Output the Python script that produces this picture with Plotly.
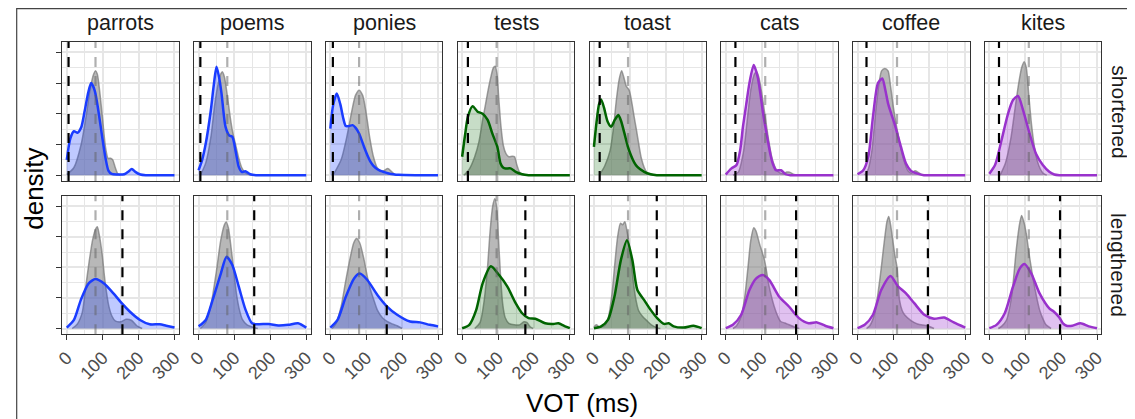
import plotly.graph_objects as go

# the page body adds an 8 px margin, so the figure is drawn 8 px smaller
OFF = 8
W, H = 1135 - OFF, 419 - OFF

words = ["parrots", "poems", "ponies", "tests", "toast", "cats", "coffee", "kites"]
conditions = ["shortened", "lengthened"]
word_colors = ["#1a3cff", "#1a3cff", "#1a3cff", "#006400", "#006400", "#9932cc", "#9932cc", "#9932cc"]
word_fills = ["rgba(26,60,255,0.28)", "rgba(26,60,255,0.28)", "rgba(26,60,255,0.28)",
              "rgba(0,100,0,0.22)", "rgba(0,100,0,0.22)",
              "rgba(153,50,204,0.30)", "rgba(153,50,204,0.30)", "rgba(153,50,204,0.30)"]

# vertical reference lines (VOT, ms)
baseline_mean = [80, 80, 80, 96, 95, 110, 110, 110]
shortened_target = [5, 5, 7, 16, 16, 27, 25, 27]
lengthened_target = [155, 155, 157, 176, 175, 196, 196, 197]

x_ticks = [0, 100, 200, 300]
y_ticks = [0, 1, 2, 3, 4]

# ---------------- shortened row: manipulated densities ----------------
parrots_short_x = [0, 10, 20, 30, 40, 50, 60, 68, 78, 88, 98, 108, 116, 125, 140, 160, 172, 181, 192, 205, 220, 260, 300]
parrots_short_y = [0.5, 1.2, 1.43, 1.38, 1.55, 2.1, 2.7, 3.0, 2.75, 2.1, 1.3, 0.55, 0.15, 0.04, 0.02, 0.03, 0.12, 0.2, 0.1, 0.02, 0, 0, 0]
poems_short_x = [0, 10, 20, 34, 42, 50, 57, 64, 75, 85, 94, 103, 112, 121, 130, 144, 160, 230, 300]
poems_short_y = [0.16, 0.5, 1.03, 2.1, 2.9, 3.53, 3.2, 2.66, 1.58, 1.3, 1.25, 0.8, 0.27, 0.1, 0.13, 0.03, 0, 0, 0]
ponies_short_x = [0, 8, 18, 28, 36, 43, 52, 62, 70, 80, 94, 105, 112, 120, 130, 140, 150, 160, 175, 190, 240, 300]
ponies_short_y = [1.52, 2.3, 2.66, 2.3, 1.85, 1.6, 1.6, 1.63, 1.55, 1.36, 0.92, 0.6, 0.43, 0.3, 0.2, 0.14, 0.1, 0.06, 0.03, 0.01, 0, 0]
tests_short_x = [0, 8, 16, 29, 43, 57, 71, 84, 98, 107, 114, 121, 135, 149, 167, 185, 240, 300]
tests_short_y = [0.6, 1.3, 1.9, 2.25, 2.07, 2.0, 1.8, 1.36, 0.92, 0.38, 0.25, 0.22, 0.22, 0.11, 0.03, 0, 0, 0]
toast_short_x = [0, 8, 14, 20, 28, 38, 48, 58, 68, 76, 85, 94, 103, 112, 121, 140, 158, 175, 240, 300]
toast_short_y = [0.92, 1.8, 2.3, 2.47, 2.2, 1.75, 1.58, 1.8, 1.96, 1.75, 1.36, 0.95, 0.65, 0.42, 0.27, 0.11, 0.03, 0, 0, 0]
cats_short_x = [0, 16, 30, 40, 48, 57, 66, 78, 89, 96, 103, 110, 117, 124, 131, 140, 154, 167, 180, 240, 300]
cats_short_y = [0.02, 0.22, 0.33, 0.8, 1.58, 2.3, 3.0, 3.59, 3.2, 2.7, 2.1, 1.6, 1.14, 0.7, 0.38, 0.16, 0.16, 0.03, 0, 0, 0]
coffee_short_x = [0, 16, 30, 43, 57, 69, 77, 85, 94, 103, 112, 121, 135, 149, 167, 185, 240, 300]
coffee_short_y = [0.03, 0.16, 0.6, 1.9, 3.0, 3.15, 2.8, 2.34, 2.0, 1.68, 1.3, 0.92, 0.38, 0.14, 0.05, 0, 0, 0]
kites_short_x = [0, 16, 34, 52, 66, 80, 94, 112, 130, 149, 167, 181, 195, 250, 300]
kites_short_y = [0.05, 0.33, 1.14, 2.0, 2.45, 2.58, 2.12, 1.36, 0.7, 0.33, 0.11, 0.02, 0, 0, 0]

# ---------------- shortened row: baseline densities ----------------
parrots_short_base_x = [0, 20, 40, 55, 65, 75, 80, 85, 92, 100, 108, 115, 122, 128, 135, 142, 150]
parrots_short_base_y = [0.02, 0.25, 1.0, 2.0, 2.8, 3.3, 3.4, 3.3, 2.7, 1.8, 0.9, 0.55, 0.55, 0.5, 0.25, 0.05, 0]
poems_short_base_x = [5, 20, 35, 45, 55, 62, 66, 72, 80, 88, 95, 103, 112, 120, 130, 140, 150]
poems_short_base_y = [0, 0.4, 1.3, 2.3, 3.0, 3.3, 3.37, 3.2, 2.6, 1.9, 1.4, 1.0, 0.55, 0.25, 0.08, 0.02, 0]
ponies_short_base_x = [10, 30, 45, 60, 70, 80, 90, 100, 110, 120, 130, 140, 150, 160, 170, 180, 190]
ponies_short_base_y = [0.05, 0.5, 1.2, 2.1, 2.6, 2.77, 2.6, 2.0, 1.2, 0.6, 0.25, 0.12, 0.15, 0.22, 0.12, 0.02, 0]
tests_short_base_x = [5, 20, 35, 47, 57, 65, 72, 80, 87, 92, 97, 102, 108, 115, 122, 130, 140, 146, 152, 160, 170, 178]
tests_short_base_y = [0, 0.2, 0.6, 1.1, 1.8, 2.3, 2.75, 3.2, 3.5, 3.55, 3.3, 2.5, 1.6, 0.95, 0.7, 0.6, 0.62, 0.6, 0.35, 0.1, 0.02, 0]
toast_short_base_x = [15, 30, 45, 55, 62, 70, 77, 83, 90, 98, 105, 112, 118, 125, 132, 140, 148, 158, 165]
toast_short_base_y = [0, 0.3, 0.8, 1.6, 2.4, 3.1, 3.4, 3.2, 2.9, 2.77, 2.4, 1.9, 1.5, 1.0, 0.55, 0.25, 0.08, 0.02, 0]
cats_short_base_x = [20, 35, 50, 60, 70, 80, 86, 92, 100, 110, 120, 130, 140, 150, 160, 170, 178, 188, 195]
cats_short_base_y = [0, 0.1, 0.8, 1.8, 2.8, 3.3, 3.37, 3.2, 2.7, 1.9, 1.1, 0.5, 0.2, 0.08, 0.05, 0.1, 0.1, 0.03, 0]
coffee_short_base_x = [20, 30, 40, 50, 60, 67, 76, 85, 92, 100, 110, 120, 130, 140, 150, 160, 168, 178, 185]
coffee_short_base_y = [0, 0.2, 0.8, 2.0, 3.0, 3.4, 3.48, 3.4, 2.9, 2.2, 1.5, 0.9, 0.45, 0.15, 0.06, 0.14, 0.1, 0.02, 0]
kites_short_base_x = [30, 45, 60, 72, 82, 90, 97, 103, 110, 118, 126, 134, 142, 150, 160]
kites_short_base_y = [0, 0.4, 1.2, 2.2, 3.0, 3.5, 3.7, 3.5, 2.6, 1.6, 0.9, 0.45, 0.2, 0.06, 0]

# ---------------- lengthened row: manipulated densities ----------------
parrots_long_x = [0, 20, 39, 61, 80, 103, 130, 153, 176, 204, 231, 259, 277, 300]
parrots_long_y = [0.03, 0.28, 0.93, 1.48, 1.62, 1.48, 1.15, 0.83, 0.55, 0.28, 0.14, 0.14, 0.09, 0.03]
poems_long_x = [0, 20, 39, 62, 78, 94, 112, 131, 149, 167, 195, 222, 250, 277, 300]
poems_long_y = [0.07, 0.28, 0.93, 1.8, 2.35, 2.08, 1.37, 0.61, 0.17, 0.14, 0.15, 0.1, 0.12, 0.17, 0.03]
ponies_long_x = [0, 20, 43, 66, 82, 103, 131, 158, 186, 222, 250, 277, 300]
ponies_long_y = [0.03, 0.28, 1.04, 1.64, 1.8, 1.59, 1.1, 0.72, 0.45, 0.23, 0.2, 0.12, 0.07]
tests_long_x = [0, 20, 39, 57, 80, 103, 126, 149, 167, 185, 204, 231, 254, 268, 285, 300]
tests_long_y = [0.01, 0.12, 0.6, 1.48, 2.04, 1.75, 1.37, 0.83, 0.5, 0.34, 0.32, 0.17, 0.15, 0.17, 0.08, 0.01]
toast_long_x = [0, 20, 39, 57, 75, 92, 107, 121, 140, 158, 176, 195, 208, 222, 250, 277, 300]
toast_long_y = [0.01, 0.07, 0.28, 1.04, 2.24, 2.89, 2.24, 1.26, 0.93, 0.61, 0.34, 0.15, 0.17, 0.07, 0.03, 0.09, 0.01]
cats_long_x = [0, 20, 43, 66, 85, 103, 121, 149, 176, 204, 231, 254, 277, 300]
cats_long_y = [0.01, 0.12, 0.45, 1.26, 1.64, 1.75, 1.59, 1.04, 0.72, 0.34, 0.17, 0.2, 0.09, 0.01]
coffee_long_x = [0, 20, 43, 66, 92, 112, 135, 158, 186, 213, 241, 268, 300]
coffee_long_y = [0.01, 0.12, 0.45, 1.26, 1.72, 1.39, 1.15, 0.83, 0.45, 0.32, 0.36, 0.2, 0.03]
kites_long_x = [0, 20, 43, 66, 85, 98, 117, 140, 167, 180, 195, 205, 215, 231, 254, 277, 300]
kites_long_y = [0.01, 0.12, 0.5, 1.37, 1.97, 2.11, 1.8, 1.15, 0.66, 0.55, 0.36, 0.17, 0.09, 0.09, 0.17, 0.07, 0.01]

# ---------------- lengthened row: baseline densities ----------------
parrots_long_base_x = [15, 29, 43, 52, 62, 72, 80, 85, 90, 98, 107, 117, 126, 135, 150, 165, 180, 195, 210]
parrots_long_base_y = [0, 0.14, 0.52, 1.29, 2.16, 2.9, 3.25, 3.33, 3.1, 2.48, 1.5, 0.74, 0.4, 0.25, 0.22, 0.3, 0.27, 0.09, 0]
poems_long_base_x = [5, 20, 35, 50, 62, 72, 77, 83, 90, 98, 106, 114, 122, 135, 150, 165]
poems_long_base_y = [0, 0.2, 0.8, 1.9, 2.9, 3.4, 3.49, 3.3, 2.7, 1.9, 1.1, 0.6, 0.3, 0.12, 0.05, 0]
ponies_long_base_x = [5, 16, 30, 42, 55, 65, 73, 82, 94, 103, 112, 122, 131, 145, 158, 172, 186, 200]
ponies_long_base_y = [0, 0.17, 0.72, 1.5, 2.3, 2.8, 2.95, 2.8, 2.24, 1.7, 1.26, 0.9, 0.6, 0.35, 0.23, 0.15, 0.09, 0]
tests_long_base_x = [35, 50, 60, 70, 78, 85, 91, 96, 101, 107, 113, 120, 130, 145, 160, 172, 180, 190, 198]
tests_long_base_y = [0, 0.2, 0.8, 1.9, 3.2, 4.0, 4.25, 4.0, 3.0, 1.7, 0.8, 0.35, 0.17, 0.12, 0.12, 0.22, 0.2, 0.05, 0]
toast_long_base_x = [0, 7, 15, 30, 40, 50, 58, 66, 74, 80, 86, 92, 100, 108, 116, 124, 135, 148, 160, 175, 185]
toast_long_base_y = [0.05, 0.12, 0.05, 0.1, 0.35, 1.1, 2.1, 3.0, 3.45, 3.4, 3.5, 3.2, 2.6, 1.7, 1.0, 0.6, 0.4, 0.25, 0.12, 0.03, 0]
cats_long_base_x = [20, 30, 43, 53, 62, 70, 78, 84, 94, 108, 121, 135, 145, 153, 165, 175, 195, 205]
cats_long_base_y = [0, 0.09, 0.39, 1.04, 2.0, 2.9, 3.3, 3.2, 2.78, 2.24, 1.37, 0.72, 0.4, 0.23, 0.18, 0.13, 0.03, 0]
coffee_long_base_x = [25, 34, 48, 62, 75, 82, 87, 92, 98, 104, 110, 117, 124, 131, 149, 167, 195, 213]
coffee_long_base_y = [0, 0.09, 0.5, 1.59, 2.89, 3.5, 3.67, 3.4, 2.9, 2.4, 2.0, 0.93, 0.6, 0.45, 0.26, 0.15, 0.09, 0]
kites_long_base_x = [25, 34, 48, 62, 75, 84, 90, 96, 103, 112, 126, 140, 150, 158, 172]
kites_long_base_y = [0, 0.07, 0.28, 1.04, 2.57, 3.4, 3.7, 3.5, 3.1, 2.35, 1.37, 0.61, 0.3, 0.12, 0]

manip = [
    [(parrots_short_x, parrots_short_y), (poems_short_x, poems_short_y), (ponies_short_x, ponies_short_y),
     (tests_short_x, tests_short_y), (toast_short_x, toast_short_y), (cats_short_x, cats_short_y),
     (coffee_short_x, coffee_short_y), (kites_short_x, kites_short_y)],
    [(parrots_long_x, parrots_long_y), (poems_long_x, poems_long_y), (ponies_long_x, ponies_long_y),
     (tests_long_x, tests_long_y), (toast_long_x, toast_long_y), (cats_long_x, cats_long_y),
     (coffee_long_x, coffee_long_y), (kites_long_x, kites_long_y)],
]
base = [
    [(parrots_short_base_x, parrots_short_base_y), (poems_short_base_x, poems_short_base_y),
     (ponies_short_base_x, ponies_short_base_y), (tests_short_base_x, tests_short_base_y),
     (toast_short_base_x, toast_short_base_y), (cats_short_base_x, cats_short_base_y),
     (coffee_short_base_x, coffee_short_base_y), (kites_short_base_x, kites_short_base_y)],
    [(parrots_long_base_x, parrots_long_base_y), (poems_long_base_x, poems_long_base_y),
     (ponies_long_base_x, ponies_long_base_y), (tests_long_base_x, tests_long_base_y),
     (toast_long_base_x, toast_long_base_y), (cats_long_base_x, cats_long_base_y),
     (coffee_long_base_x, coffee_long_base_y), (kites_long_base_x, kites_long_base_y)],
]
targets = [shortened_target, lengthened_target]

FONT = "Liberation Sans, Arial, Helvetica, sans-serif"
GRID = "#E6E6E6"
FRAME = "#333333"


def px_x(p):
    return (p - OFF) / W


def px_y(p):
    return 1 - (p - OFF) / H


fig = go.Figure()
layout = {}
shapes = []

panel_left0, panel_w, panel_step = 55.0, 117.7, 133.33
row_tops = [42.0, 196.0]
row_bottoms = [181.0, 334.3]

for r in range(2):
    for c in range(8):
        k = r * 8 + c + 1
        xa = "xaxis" if k == 1 else f"xaxis{k}"
        ya = "yaxis" if k == 1 else f"yaxis{k}"
        xr = "x" if k == 1 else f"x{k}"
        yr = "y" if k == 1 else f"y{k}"
        left = panel_left0 + panel_step * c
        layout[xa] = dict(
            domain=[px_x(left), px_x(left + panel_w)], anchor=yr, range=[-12, 312],
            tickvals=x_ticks, ticktext=[str(v) for v in x_ticks],
            showticklabels=(r == 1), ticks="outside" if r == 1 else "",
            ticklen=5, tickwidth=1, tickcolor=FRAME, tickangle=-45,
            tickfont=dict(family=FONT, size=18, color="#4D4D4D"),
            showgrid=True, gridcolor=GRID, gridwidth=1.6,
            minor=dict(dtick=50, tick0=0, showgrid=True, gridcolor=GRID, gridwidth=1, ticks=""),
            showline=True, mirror=True, linecolor=FRAME, linewidth=1, zeroline=False, fixedrange=True,
        )
        layout[ya] = dict(
            domain=[px_y(row_bottoms[r]), px_y(row_tops[r])], anchor=xr, range=[-0.19, 4.34],
            tickvals=y_ticks, showticklabels=False, ticks="outside" if c == 0 else "",
            ticklen=5, tickwidth=1, tickcolor=FRAME,
            showgrid=True, gridcolor=GRID, gridwidth=1.6,
            minor=dict(dtick=0.5, tick0=0, showgrid=True, gridcolor=GRID, gridwidth=1, ticks=""),
            showline=True, mirror=True, linecolor=FRAME, linewidth=1, zeroline=False, fixedrange=True,
        )
        bx, by = base[r][c]
        fig.add_trace(go.Scatter(
            x=bx, y=by, xaxis=xr, yaxis=yr, mode="lines", fill="tozeroy",
            fillcolor="rgba(128,128,128,0.56)",
            line=dict(color="rgba(118,118,118,0.7)", width=1.5, shape="spline", smoothing=0.7),
            showlegend=False, hoverinfo="skip"))
        mx, my = manip[r][c]
        fig.add_trace(go.Scatter(
            x=mx, y=my, xaxis=xr, yaxis=yr, mode="lines", fill="tozeroy",
            fillcolor=word_fills[c],
            line=dict(color=word_colors[c], width=2.5, shape="spline", smoothing=0.7),
            showlegend=False, hoverinfo="skip"))
        shapes.append(dict(type="line", xref=xr, yref=f"{yr} domain", x0=baseline_mean[c], x1=baseline_mean[c],
                           y0=0, y1=1, layer="above",
                           line=dict(color="rgba(95,95,95,0.5)", width=2.2, dash="10px,9px")))
        shapes.append(dict(type="line", xref=xr, yref=f"{yr} domain", x0=targets[r][c], x1=targets[r][c],
                           y0=0, y1=1, layer="above",
                           line=dict(color="black", width=2.2, dash="10px,9px")))

# outer frame
shapes.append(dict(type="rect", xref="paper", yref="paper", x0=px_x(8.7), x1=1.02, y0=-0.05, y1=px_y(8.7),
                   line=dict(color="#444444", width=1.2), fillcolor="rgba(0,0,0,0)", layer="below"))

annotations = []
for c, w in enumerate(words):
    annotations.append(dict(text=w, xref="paper", yref="paper",
                            x=px_x(panel_left0 + panel_step * c + panel_w / 2), y=px_y(23),
                            xanchor="center", yanchor="middle", showarrow=False,
                            font=dict(family=FONT, size=21.5, color="#1A1A1A")))
for r, cond in enumerate(conditions):
    annotations.append(dict(text=cond, xref="paper", yref="paper", x=px_x(1124),
                            y=px_y((row_tops[r] + row_bottoms[r]) / 2), textangle=90,
                            xanchor="center", yanchor="middle", showarrow=False,
                            font=dict(family=FONT, size=21, color="#1A1A1A")))
annotations.append(dict(text="density", xref="paper", yref="paper", x=px_x(26), y=px_y(189),
                        textangle=-90, xanchor="center", yanchor="middle", showarrow=False,
                        font=dict(family=FONT, size=26, color="black")))
annotations.append(dict(text="VOT (ms)", xref="paper", yref="paper", x=px_x(581), y=px_y(403),
                        xanchor="center", yanchor="middle", showarrow=False,
                        font=dict(family=FONT, size=26, color="black")))

fig.update_layout(
    width=W, height=H, margin=dict(l=0, r=0, t=0, b=0),
    paper_bgcolor="white", plot_bgcolor="white",
    font=dict(family=FONT), shapes=shapes, annotations=annotations, **layout)

fig.write_html("out.html", config={"displayModeBar": False})
